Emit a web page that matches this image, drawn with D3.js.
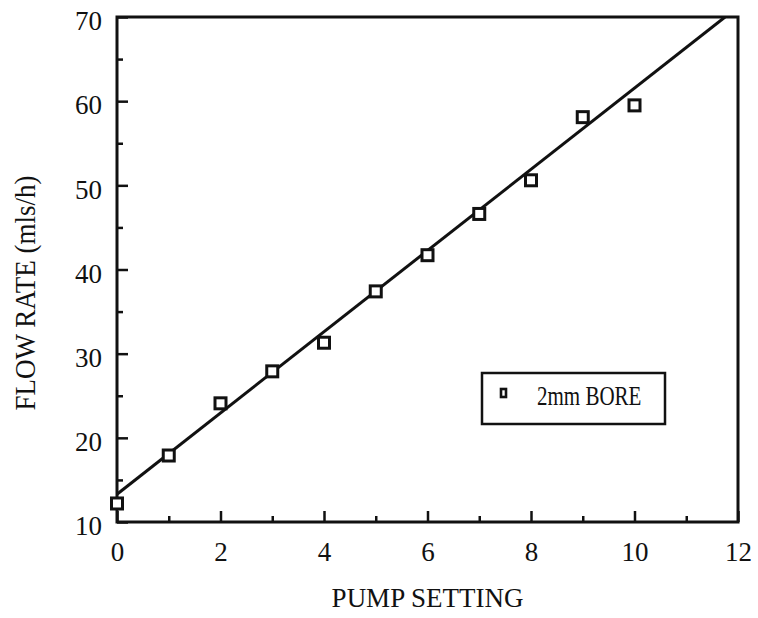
<!DOCTYPE html>
<html>
<head>
<meta charset="utf-8">
<script src="https://cdn.jsdelivr.net/npm/d3@7"></script>
<style>
  body { margin: 0; background: #fff; }
  text { font-family: "Liberation Serif", "Times New Roman", serif; fill: #111; }
</style>
</head>
<body>
<svg id="chart" width="758" height="618"></svg>
<script>
// data
const pumpSetting = [0, 1, 2, 3, 4, 5, 6, 7, 8, 9, 10];
const flowRate = [12.2, 17.9, 24.1, 27.9, 31.3, 37.4, 41.7, 46.6, 50.6, 58.1, 59.5];
const fitLine = [[0, 13.3], [11.75, 70]];
const xMajor = [0, 2, 4, 6, 8, 10, 12];
const xMinor = [1, 3, 5, 7, 9, 11];
const yMajor = [10, 20, 30, 40, 50, 60, 70];
const yMinor = [15, 25, 35, 45, 55, 65];
const legendLabel = "2mm BORE";

const svg = d3.select('#chart');
const plotL = 117, plotR = 738, plotT = 17, plotB = 522;

const x = d3.scaleLinear().domain([0, 12]).range([plotL, plotR]);
const y = d3.scaleLinear().domain([10, 70]).range([plotB, plotT]);

// ticks point inward
const gx = svg.append('g').attr('transform', `translate(0,${plotB})`)
	.call(d3.axisBottom(x).tickValues(xMajor).tickSize(-11).tickPadding(20));
const gxm = svg.append('g').attr('transform', `translate(0,${plotB})`)
	.call(d3.axisBottom(x).tickValues(xMinor).tickSize(-6).tickFormat(''));
const gy = svg.append('g').attr('transform', `translate(${plotL},0)`)
	.call(d3.axisLeft(y).tickValues(yMajor).tickSize(-11).tickPadding(15));
const gym = svg.append('g').attr('transform', `translate(${plotL},0)`)
	.call(d3.axisLeft(y).tickValues(yMinor).tickSize(-6).tickFormat(''));

[gx, gxm, gy, gym].forEach(g => {
	g.select('.domain').remove();
	g.selectAll('line').attr('stroke', '#111').attr('stroke-width', 2.5);
	g.selectAll('text').style('font-size', '27px').attr('fill', '#111')
		.style('font-family', '"Liberation Serif", "Times New Roman", serif');
});
gy.selectAll('text').attr('dy', '0.47em');

// frame
svg.append('rect')
	.attr('x', plotL).attr('y', plotT)
	.attr('width', plotR - plotL).attr('height', plotB - plotT)
	.attr('fill', 'none').attr('stroke', '#111').attr('stroke-width', 3);

// fitted line, clipped to the frame
svg.append('clipPath').attr('id', 'plot')
	.append('rect').attr('x', plotL).attr('y', plotT)
	.attr('width', plotR - plotL).attr('height', plotB - plotT);

svg.append('path')
	.datum(fitLine)
	.attr('clip-path', 'url(#plot)')
	.attr('d', d3.line().x(d => x(d[0])).y(d => y(d[1])))
	.attr('fill', 'none').attr('stroke', '#111').attr('stroke-width', 3);

// markers
const s = 11;
svg.append('g').selectAll('rect')
	.data(pumpSetting)
	.join('rect')
	.attr('x', (d) => x(d) - s / 2)
	.attr('y', (d, i) => y(flowRate[i]) - s / 2)
	.attr('width', s).attr('height', s)
	.attr('fill', '#fff').attr('stroke', '#111').attr('stroke-width', 3);

// legend
const lg = svg.append('g');
lg.append('rect')
	.attr('x', 482).attr('y', 373).attr('width', 183).attr('height', 51)
	.attr('fill', '#fff').attr('stroke', '#111').attr('stroke-width', 2.5);
lg.append('rect')
	.attr('x', 501).attr('y', 389).attr('width', 5).attr('height', 8)
	.attr('fill', '#fff').attr('stroke', '#111').attr('stroke-width', 2.6);
lg.append('text')
	.attr('transform', 'translate(537,405) scale(1,1.25)')
	.style('font-size', '21px')
	.text(legendLabel);

// axis titles
svg.append('text')
	.attr('x', (plotL + plotR) / 2).attr('y', 607)
	.attr('text-anchor', 'middle')
	.style('font-size', '27px')
	.text('PUMP SETTING');

svg.append('text')
	.attr('transform', 'translate(35,293) rotate(-90) scale(1,1.1)')
	.attr('text-anchor', 'middle')
	.style('font-size', '27px')
	.text('FLOW RATE (mls/h)');
</script>
</body>
</html>
